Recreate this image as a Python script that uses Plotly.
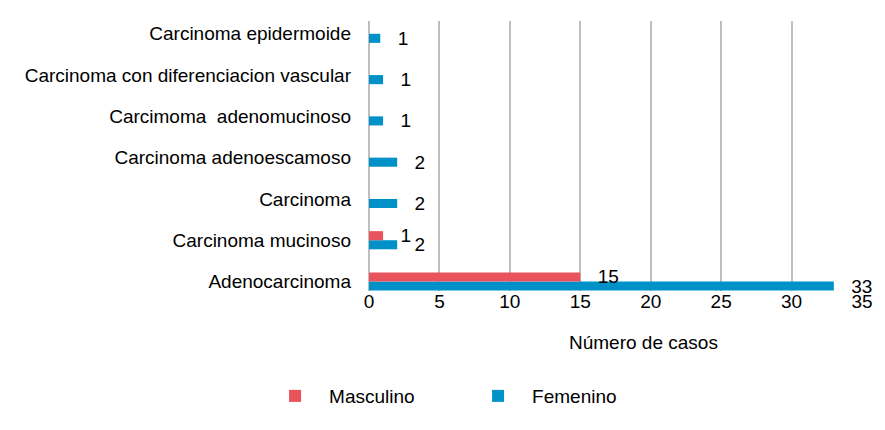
import plotly.graph_objects as go

categories = [
    "Adenocarcinoma",
    "Carcinoma mucinoso",
    "Carcinoma",
    "Carcinoma adenoescamoso",
    "Carcimoma  adenomucinoso",
    "Carcinoma con diferenciacion vascular",
    "Carcinoma epidermoide",
]
masculino = [15, 1, None, None, None, None, None]
femenino = [33, 2, 2, 2, 1, 1, 0.8]
x_ticks = [0, 5, 10, 15, 20, 25, 30, 35]

FONT = "Liberation Sans Narrow, Arial Narrow, Liberation Sans, Arial, sans-serif"
FS = 19
RED = "#E9535C"
BLUE = "#0091C9"
GRID = "#BFBFBF"
PAD = "\u00a0\u00a0\u2009"

fig = go.Figure()
fig.add_trace(go.Bar(
    y=categories, x=femenino, orientation="h", name="Femenino",
    marker=dict(color=BLUE, line=dict(width=0)),
    texttemplate=PAD + "%{x:.0f}", textposition="outside", cliponaxis=False,
    constraintext="none",
    textfont=dict(family=FONT, size=FS, color="#000000"),
))
fig.add_trace(go.Bar(
    y=categories, x=masculino, orientation="h", name="Masculino",
    marker=dict(color=RED, line=dict(width=0)),
    texttemplate=PAD + "%{x:.0f}", textposition="outside", cliponaxis=False,
    constraintext="none",
    textfont=dict(family=FONT, size=FS, color="#000000"),
))

fig.update_layout(
    width=885, height=430,
    margin=dict(l=369, r=17, t=21, b=139),
    barmode="group", bargap=0.56, bargroupgap=0,
    paper_bgcolor="white", plot_bgcolor="white",
    font=dict(family=FONT, size=FS, color="#000000"),
    showlegend=True,
    legend=dict(
        orientation="h", traceorder="reversed",
        xref="container", yref="container",
        x=0.295, y=0.079, xanchor="left", yanchor="middle",
        itemwidth=58,
        entrywidth=130, entrywidthmode="pixels",
        font=dict(family=FONT, size=FS, color="#000000"),
    ),
    xaxis=dict(
        range=[0, 35], tickvals=x_ticks, showgrid=True,
        gridcolor=GRID, gridwidth=1.5,
        zeroline=True, zerolinecolor=GRID, zerolinewidth=1.5,
        showline=False, ticks="", ticklabelstandoff=-3,
        tickfont=dict(family=FONT, size=FS),
    ),
    yaxis=dict(
        categoryorder="array", categoryarray=categories,
        range=[-0.23, 6.31],
        showgrid=False, zeroline=False, showline=False, ticks="",
        ticklabelstandoff=17, tickfont=dict(family=FONT, size=FS),
    ),
    annotations=[dict(
        text="Número de casos", xref="paper", yref="paper",
        x=0.556, y=-0.189, showarrow=False, xanchor="center", yanchor="middle",
        font=dict(family=FONT, size=FS, color="#000000"),
    )],
)

fig.write_html(
    "out.html",
    config={"displayModeBar": False},
    post_script="document.body.style.margin='0';document.body.style.overflow='hidden';",
)
